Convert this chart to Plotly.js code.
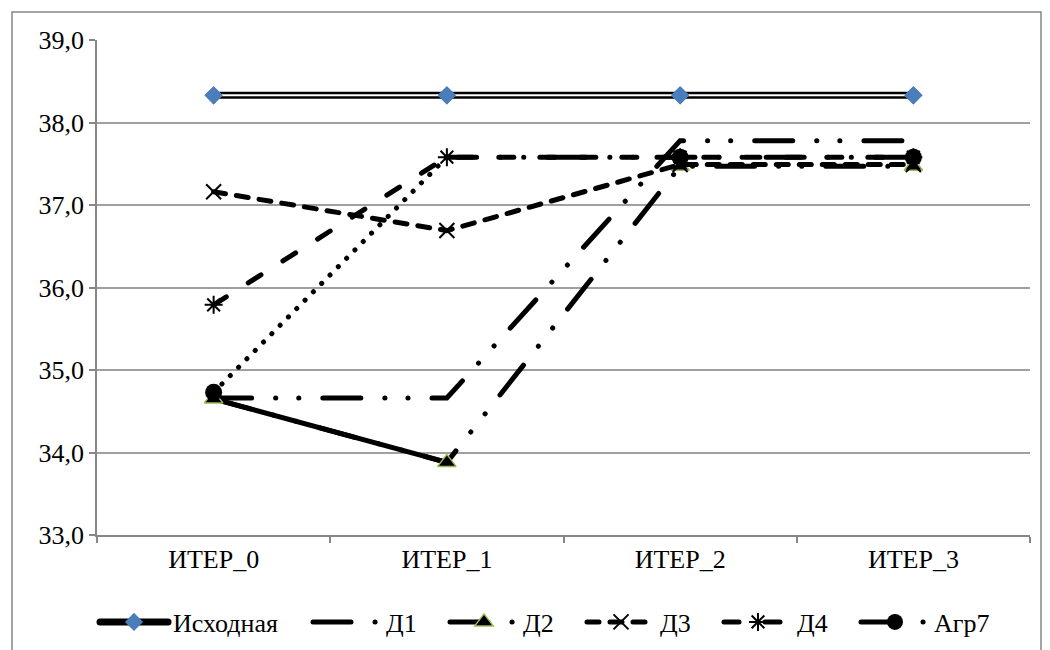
<!DOCTYPE html>
<html>
<head>
<meta charset="utf-8">
<script src="https://cdn.plot.ly/plotly-3.0.1.min.js"></script>
<style>
  html, body { margin: 0; padding: 0; background: #fff; }
  #chart { width: 1050px; height: 650px; }
  .js-line { stroke-linecap: round !important; }
</style>
</head>
<body>
<div id="chart"></div>
<script>
// ---- data ----
const categories = ['ИТЕР_0', 'ИТЕР_1', 'ИТЕР_2', 'ИТЕР_3'];
const ishodnaya = [38.33, 38.33, 38.33, 38.33];
const d1 = [34.66, 34.66, 37.78, 37.78];
const d2 = [34.65, 33.88, 37.47, 37.47];
const d3 = [37.16, 36.69, 37.49, 37.49];
const d4 = [35.79, 37.58, 37.58, 37.58];
const agr7 = [34.73, 37.58, 37.58, 37.58];
const seriesNames = ['Исходная', 'Д1', 'Д2', 'Д3', 'Д4', 'Агр7'];
const yTicks = [33, 34, 35, 36, 37, 38, 39];

// ---- styles ----
const LDD = '38px,24px,0.1px,23px,0.1px,24px'; // long dash dot dot
const W = 5;
const FONT = 'Times New Roman';
const FS = 26;

// Агр7 main part (ИТЕР_1..ИТЕР_3), drawn right-to-left so the legend symbol is a circle
const agrX = categories.slice(1).reverse();
const agrY = agr7.slice(1).reverse();

const traces = [
  // Исходная: double line + diamonds
  { x: categories, y: ishodnaya, name: seriesNames[0], mode: 'lines+markers', legend: 'legend',
    line: { color: '#000', width: 7 },
    marker: { symbol: 'diamond', size: 14, color: '#4A7EBB' } },
  { x: categories, y: ishodnaya, mode: 'lines', showlegend: false, hoverinfo: 'skip',
    line: { color: '#fff', width: 2 } },
  { x: categories, y: ishodnaya, mode: 'markers', showlegend: false, hoverinfo: 'skip',
    marker: { symbol: 'diamond', size: 14, color: '#4A7EBB' } },
  // Д1
  { x: categories, y: d1, name: seriesNames[1], mode: 'lines', legend: 'legend2',
    line: { color: '#000', width: W, dash: LDD } },
  // Д2: first segment solid
  { x: categories.slice(0, 2), y: d2.slice(0, 2), mode: 'lines', showlegend: false, hoverinfo: 'skip',
    line: { color: '#000', width: W } },
  { x: categories, y: d2, name: seriesNames[2], mode: 'lines+markers', legend: 'legend2',
    line: { color: '#000', width: W, dash: LDD },
    marker: { symbol: 'triangle-up', size: 16, color: '#000', line: { color: '#9BBB59', width: 1.5 } } },
  // Д3
  { x: categories, y: d3, name: seriesNames[3], mode: 'lines+markers', legend: 'legend2',
    line: { color: '#000', width: W, dash: '12px,11px' },
    marker: { symbol: 'x-thin-open', size: 15, color: '#000', line: { color: '#000', width: 2 } } },
  // Д4
  { x: categories, y: d4, name: seriesNames[4], mode: 'lines+markers', legend: 'legend2',
    line: { color: '#000', width: W, dash: '15px,26px' },
    marker: { symbol: 'asterisk-open', size: 15, color: '#000', line: { color: '#000', width: 2 } } },
  // Агр7: first segment dotted with marker at ИТЕР_0
  { x: categories.slice(0, 2), y: agr7.slice(0, 2), mode: 'lines+markers', showlegend: false, hoverinfo: 'skip',
    line: { color: '#000', width: W, dash: '0.1px,11.7px' },
    marker: { symbol: ['circle', 'line-ew'], size: 17, color: '#000', line: { width: 0 } } },
  { x: agrX, y: agrY, name: seriesNames[5], mode: 'lines+markers', legend: 'legend2',
    line: { color: '#000', width: W, dash: LDD },
    marker: { symbol: ['circle', 'circle', 'line-ew'], size: 17, color: '#000', line: { width: 0 } } }
];

const ml = 97, mr = 20, mt = 40, mb = 115;
const pw = 1050 - ml - mr, ph = 650 - mt - mb;
const px2x = p => (p - ml) / pw;
const py2y = p => (650 - mb - p) / ph;

const legendBase = {
  orientation: 'h', xanchor: 'left', y: py2y(622), yanchor: 'middle',
  font: { family: FONT, size: FS, color: '#000' },
  itemwidth: 68, bgcolor: 'rgba(0,0,0,0)', borderwidth: 0
};

const layout = {
  width: 1050, height: 650,
  margin: { l: ml, r: mr, t: mt, b: mb, autoexpand: false },
  paper_bgcolor: '#fff', plot_bgcolor: '#fff',
  separators: ', ',
  font: { family: FONT, size: FS, color: '#000' },
  showlegend: true,
  xaxis: {
    type: 'category', categoryorder: 'array', categoryarray: categories,
    range: [-0.5, categories.length - 0.5], tickson: 'boundaries', automargin: false,
    showgrid: false, showline: true, linecolor: '#868686', linewidth: 1.5,
    ticks: 'outside', ticklen: 6, tickcolor: '#868686', tickwidth: 1.5,
    tickfont: { family: FONT, size: FS, color: '#000' },
    zeroline: false, fixedrange: true
  },
  yaxis: {
    range: [33, 39], tickvals: yTicks, tickformat: '.1f', automargin: false,
    showgrid: true, gridcolor: '#A0A0A0', gridwidth: 1.5,
    showline: true, linecolor: '#868686', linewidth: 1.5,
    ticks: 'outside', ticklen: 6, tickcolor: '#868686', tickwidth: 1.5,
    tickfont: { family: FONT, size: FS, color: '#000' },
    zeroline: false, fixedrange: true
  },
  legend: Object.assign({}, legendBase, { x: px2x(95) }),
  legend2: Object.assign({}, legendBase, { x: px2x(308), entrywidth: 54, entrywidthmode: 'pixels' }),
  shapes: [{
    type: 'rect', xref: 'paper', yref: 'paper',
    x0: px2x(12), x1: px2x(1041), y0: py2y(655), y1: py2y(12),
    line: { color: '#868686', width: 1.5 }, fillcolor: 'rgba(0,0,0,0)', layer: 'below'
  }]
};

Plotly.newPlot('chart', traces, layout, { displayModeBar: false });
</script>
</body>
</html>
